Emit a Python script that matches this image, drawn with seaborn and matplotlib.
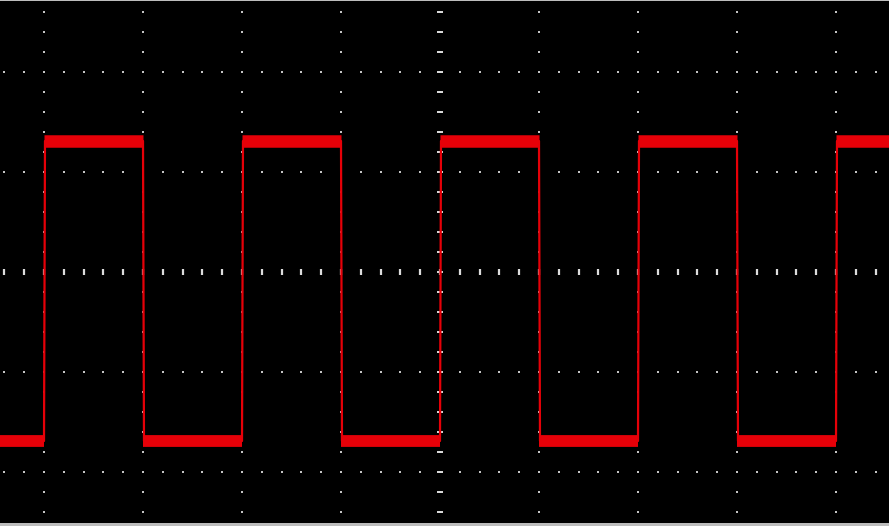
import numpy as np
import pandas as pd
import matplotlib
matplotlib.use("Agg")
import matplotlib.pyplot as plt
import seaborn as sns

# ---- data (oscilloscope divisions) ----
rise_times = [-4.0, -2.0, 0.0, 2.0, 4.0]
fall_times = [-3.0, -1.0, 1.0, 3.0]
high_level = 1.31
low_level = -1.69
x_left, x_right = -440 / 99, 449 / 99
y_top, y_bottom = 2.71, -2.51

# build waveform vertices from the edges
events = sorted([(t, "r") for t in rise_times] + [(t, "f") for t in fall_times])
t_pts = [x_left]
v_pts = [low_level]
level = low_level
for t, kind in events:
    t_pts.append(t)
    v_pts.append(level)
    level = high_level if kind == "r" else low_level
    t_pts.append(t + 0.01)
    v_pts.append(level)
t_pts.append(x_right)
v_pts.append(level)
wave = pd.DataFrame({"t": t_pts, "v": v_pts, "order": range(len(t_pts))})

sns.set_theme(style="dark", rc={"axes.facecolor": "black", "figure.facecolor": "#bdbdbd"})
fig = plt.figure(figsize=(8.89, 5.26), dpi=100)
ax = fig.add_axes([0, 3 / 526, 1, 522 / 526])
ax.set_facecolor("black")

# grid dots
grid_col = "#c4c4c4"
vx = np.arange(-4, 5, 1.0)
hy = np.arange(-2, 3, 1.0)
fine_y = np.arange(-2.6, 2.81, 0.2)
fine_x = np.arange(-4.4, 4.61, 0.2)
gx, gy = np.meshgrid(vx, fine_y)
ax.scatter(gx.ravel(), gy.ravel(), s=3, marker="s", color=grid_col, linewidths=0, zorder=1)
gx2, gy2 = np.meshgrid(fine_x, hy)
ax.scatter(gx2.ravel(), gy2.ravel(), s=3, marker="s", color=grid_col, linewidths=0, zorder=1)
# center axis tick marks
ax.scatter(fine_x, np.zeros_like(fine_x), s=20, marker="|", color="#dcdcdc", linewidths=1.6, zorder=1)
ax.scatter(np.zeros_like(fine_y), fine_y, s=18, marker="_", color="#dcdcdc", linewidths=1.4, zorder=1)

red = "#e60008"
# thick level bands
hs, he, ls, le = [], [], [], []
prev = x_left
lvl = low_level
for t, kind in events:
    (hs if lvl == high_level else ls).append(prev)
    (he if lvl == high_level else le).append(t)
    prev = t
    lvl = high_level if kind == "r" else low_level
(hs if lvl == high_level else ls).append(prev)
(he if lvl == high_level else le).append(x_right)
ax.hlines([high_level] * len(hs), hs, he, colors=red, linewidth=9.0, zorder=3)
ax.hlines([low_level] * len(ls), ls, le, colors=red, linewidth=8.5, zorder=3)

sns.lineplot(data=wave, x="t", y="v", sort=False, estimator=None, color=red,
             linewidth=1.6, ax=ax, zorder=4)

ax.set_xlim(x_left, x_right)
ax.set_ylim(y_bottom, y_top)
ax.set_xticks([])
ax.set_yticks([])
ax.set_xlabel("")
ax.set_ylabel("")
for s in ax.spines.values():
    s.set_visible(False)

fig.savefig("out.png", dpi=100, facecolor=fig.get_facecolor())
